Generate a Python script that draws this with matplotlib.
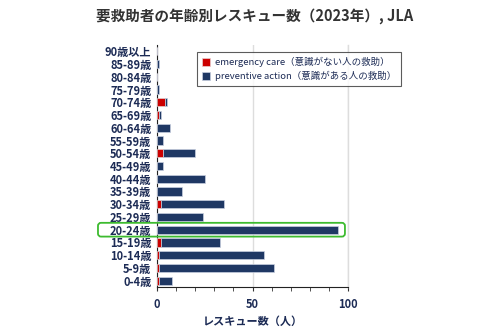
import matplotlib
matplotlib.use('Agg')
import matplotlib.pyplot as plt
from matplotlib.patches import FancyBboxPatch
from matplotlib.ticker import MultipleLocator

plt.rcParams['font.family'] = ['Noto Sans CJK JP', 'DejaVu Sans']

# データ（上から下の順）
ages = ['90歳以上', '85-89歳', '80-84歳', '75-79歳', '70-74歳', '65-69歳', '60-64歳',
        '55-59歳', '50-54歳', '45-49歳', '40-44歳', '35-39歳', '30-34歳', '25-29歳',
        '20-24歳', '15-19歳', '10-14歳', '5-9歳', '0-4歳']
emergency = [0, 0, 0, 0, 4, 1, 0, 0, 3, 0, 0, 0, 2, 0, 0, 2, 1, 1, 1]
preventive = [0, 1, 0, 1, 1, 1, 7, 3, 17, 3, 25, 13, 33, 24, 95, 31, 55, 60, 7]
highlight = '20-24歳'

navy = '#1f3864'
red = '#cc0000'
txt = '#1c2b55'

fig = plt.figure(figsize=(5, 3.33), dpi=100)
ax = fig.add_axes([0.314, 0.138, 0.382, 0.727])

y = list(range(len(ages)))
ax.barh(y, emergency, height=0.65, color=red, edgecolor='#e8d0d0', linewidth=0.5,
        label='emergency care（意識がない人の救助）', zorder=3)
ax.barh(y, preventive, left=emergency, height=0.65, color=navy, edgecolor='#c8d0e0',
        linewidth=0.5, label='preventive action（意識がある人の救助）', zorder=3)

ax.set_yticks(y)
ax.set_yticklabels(ages, fontsize=8, fontweight='bold', color=txt)
ax.set_ylim(len(ages) - 0.5, -0.5)
ax.set_xlim(0, 100)
ax.xaxis.set_major_locator(MultipleLocator(50))
ax.xaxis.set_minor_locator(MultipleLocator(10))
ax.tick_params(axis='y', length=0, pad=4)
ax.tick_params(axis='x', which='both', length=3, color='#333333', labelsize=8,
               labelcolor=txt, pad=5)
for lab in ax.get_xticklabels():
    lab.set_fontweight('bold')
ax.set_xlabel('レスキュー数（人）', fontsize=8, fontweight='bold', color=txt, labelpad=3)

ax.grid(axis='x', color='#dddddd', linewidth=1, zorder=0)
ax.spines['top'].set_visible(False)
ax.spines['right'].set_color('#dddddd')
ax.spines['right'].set_linewidth(1)
ax.spines['left'].set_color('#222222')
ax.spines['bottom'].set_color('#222222')

# 20-24歳の強調枠
hi = ages.index(highlight)
box = FancyBboxPatch((-30.9, hi - 0.54), 129.3, 1.08,
                     boxstyle='round,pad=0,rounding_size=1.6',
                     transform=ax.transData, fill=False, edgecolor='#3dbb2f',
                     linewidth=1.3, clip_on=False, zorder=5,
                     mutation_aspect=0.15)
ax.add_patch(box)

leg = ax.legend(loc='upper left', bbox_to_anchor=(0.385, 0.858),
                bbox_transform=fig.transFigure, fontsize=6.8, frameon=True,
                fancybox=False, edgecolor='#333333', handlelength=0.9,
                handleheight=0.9, handletextpad=0.5, borderpad=0.5,
                labelspacing=0.4, labelcolor=txt)
leg.get_frame().set_linewidth(0.8)

fig.suptitle('要救助者の年齢別レスキュー数（2023年）, JLA', x=0.51, y=0.975,
             fontsize=10.5, fontweight='bold', color='#333333')

fig.savefig('out.png', dpi=100)
